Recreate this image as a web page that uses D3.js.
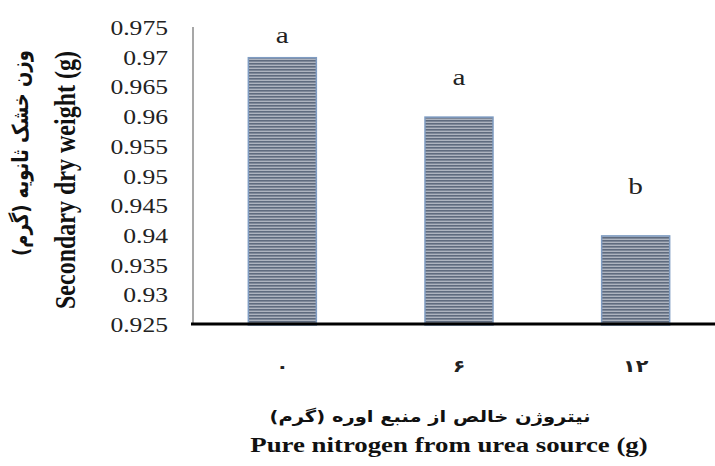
<!DOCTYPE html>
<html>
<head>
<meta charset="utf-8">
<script src="https://cdn.jsdelivr.net/npm/d3@7"></script>
<style>
  html, body { margin: 0; padding: 0; background: #fff; }
  svg { display: block; }
</style>
</head>
<body>
<svg id="chart" width="715" height="466"></svg>
<script>
// ---- data ----
const categories = ["۰", "۶", "۱۲"];
const values = [0.970, 0.960, 0.940];
const letters = ["a", "a", "b"];
const letterAnchor = [0.9736, 0.9666, 0.9482];
const yTicks = [0.925, 0.93, 0.935, 0.94, 0.945, 0.95, 0.955, 0.96, 0.965, 0.97, 0.975];
const yDomain = [0.925, 0.975];
const yTitleEn = "Secondary dry weight (g)";
const yTitleFa = "وزن خشک ثانویه (گرم)";
const xTitleEn = "Pure nitrogen from urea source (g)";
const xTitleFa = "نیتروژن خالص از منبع اوره (گرم)";

// ---- layout ----
const W = 715, H = 466;
const plotLeft = 194, plotRight = 724, plotTop = 28, plotBottom = 325;
const SX = 1.22; // horizontal stretch of the original picture's text
const serif = "'Liberation Serif', 'Times New Roman', serif";
const arabic = "'DejaVu Sans', sans-serif";

const svg = d3.select("#chart");
svg.append("rect").attr("width", W).attr("height", H).attr("fill", "#fff");

const x = d3.scaleBand().domain(categories).range([plotLeft, plotRight])
  .paddingInner(0.615).paddingOuter(0.3075);
const y = d3.scaleLinear().domain(yDomain).range([plotBottom, plotTop]);

// stripe pattern
const defs = svg.append("defs");
const pat = defs.append("pattern").attr("id", "stripes")
  .attr("patternUnits", "userSpaceOnUse").attr("width", 8).attr("height", 3);
pat.append("rect").attr("width", 8).attr("height", 3).attr("fill", "#aeb4bf");
pat.append("rect").attr("width", 8).attr("height", 1.6).attr("fill", "#5f6b7e");

// bars
svg.append("g").selectAll("rect").data(values).join("rect")
  .attr("x", (d, i) => x(categories[i]))
  .attr("width", x.bandwidth())
  .attr("y", d => y(d))
  .attr("height", d => y(yDomain[0]) - y(d))
  .attr("fill", "url(#stripes)")
  .attr("stroke", "#7f9cc2")
  .attr("stroke-width", 1.5);

// y axis line
svg.append("line").attr("x1", 193).attr("x2", 193)
  .attr("y1", plotTop - 1).attr("y2", plotBottom)
  .attr("stroke", "#8a8a8a").attr("stroke-width", 1.5);

// x axis line
svg.append("line").attr("x1", 191).attr("x2", W)
  .attr("y1", 324).attr("y2", 324)
  .attr("stroke", "#000").attr("stroke-width", 3);

// y tick labels
const fmt = d => String(+d.toFixed(3));
svg.append("g").selectAll("text").data(yTicks).join("text")
  .attr("transform", d => `translate(168,${y(d) + 7}) scale(${SX},1)`)
  .attr("text-anchor", "end")
  .attr("font-family", serif).attr("font-size", 21).attr("fill", "#222")
  .text(fmt);

// x tick labels
svg.append("g").selectAll("text").data(categories).join("text")
  .attr("transform", d => `translate(${x(d) + x.bandwidth() / 2},372) scale(${SX},1)`)
  .attr("text-anchor", "middle")
  .attr("font-family", arabic).attr("font-size", 17).attr("font-weight", "bold").attr("fill", "#222")
  .text(d => d);

// significance letters
svg.append("g").selectAll("text").data(letters).join("text")
  .attr("transform", (d, i) => `translate(${x(categories[i]) + x.bandwidth() / 2},${y(letterAnchor[i]) + 7}) scale(${SX},1)`)
  .attr("text-anchor", "middle")
  .attr("font-family", serif).attr("font-size", 24).attr("fill", "#222")
  .text(d => d);

// y titles
svg.append("text")
  .attr("transform", `translate(75,180) scale(${SX},1) rotate(-90)`)
  .attr("text-anchor", "middle")
  .attr("font-family", serif).attr("font-size", 24).attr("font-weight", "bold").attr("fill", "#111")
  .text(yTitleEn);
svg.append("text")
  .attr("transform", `translate(28,153) scale(${SX},1) rotate(-90)`)
  .attr("text-anchor", "middle")
  .attr("direction", "rtl")
  .attr("font-family", arabic).attr("font-size", 18).attr("font-weight", "bold").attr("fill", "#111")
  .text(yTitleFa);

// x titles
svg.append("text")
  .attr("transform", `translate(430,422) scale(${SX},1)`)
  .attr("text-anchor", "middle")
  .attr("direction", "rtl")
  .attr("font-family", arabic).attr("font-size", 16).attr("font-weight", "bold").attr("fill", "#111")
  .text(xTitleFa);
svg.append("text")
  .attr("transform", `translate(449,452) scale(${SX},1)`)
  .attr("text-anchor", "middle")
  .attr("font-family", serif).attr("font-size", 22).attr("font-weight", "bold").attr("fill", "#111")
  .text(xTitleEn);
</script>
</body>
</html>
